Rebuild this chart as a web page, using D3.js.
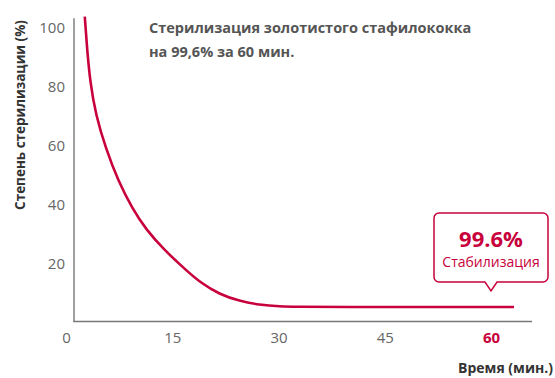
<!DOCTYPE html>
<html><head><meta charset="utf-8">
<script src="https://cdn.jsdelivr.net/npm/d3@7"></script>
<style>
html,body{margin:0;padding:0;background:#fff;}
svg{display:block;font-family:"Open Sans","Noto Sans",sans-serif;}
</style></head>
<body><svg id="c" width="555" height="378"></svg>
<script>
const xTicks = [0, 15, 30, 45, 60];
const yTicks = [20, 40, 60, 80, 100];
const minutes = [2.65, 2.97, 3.40, 4.20, 5.62, 7.40, 9.38, 11.28, 13.87, 16.94, 19.0, 21.65, 24.48, 27.31, 30.14, 33.0, 36.0, 63.25];
const sterilization = [103.5, 92.8, 81.5, 70.2, 58.8, 47.6, 38.4, 31.4, 24.4, 17.6, 13.3, 9.4, 7.1, 5.8, 5.25, 5.15, 5.1, 5.1];
const title = ["Стерилизация золотистого стафилококка", "на 99,6% за 60 мин."];
const yTitle = "Степень стерилизации (%)";
const xTitle = "Время (мин.)";
const callout = {value: "99.6%", label: "Стабилизация", at: 60};

const red = "#c8003c";
const svg = d3.select("#c");
const x = d3.scaleLinear().domain([0, 60]).range([66, 491]);
const y = d3.scaleLinear().domain([0, 100]).range([322, 27]);

// axis lines
svg.append("line").attr("x1", 74).attr("x2", 74).attr("y1", y(103)).attr("y2", 322)
  .attr("stroke", "#777").attr("stroke-width", 1.4);
svg.append("line").attr("x1", 73.3).attr("x2", 532).attr("y1", 321.5).attr("y2", 321.5)
  .attr("stroke", "#777").attr("stroke-width", 1.4);

// y tick labels
const yAxis = d3.axisLeft(y).tickValues(yTicks).tickSize(0).tickPadding(0);
const gy = svg.append("g").attr("transform", "translate(65,0)").call(yAxis);
gy.select(".domain").remove();
gy.selectAll("text").attr("font-size", 15).attr("fill", "#666").attr("font-family", "Open Sans")
  .attr("dy", "0.36em");

// x tick labels
const xAxis = d3.axisBottom(x).tickValues(xTicks).tickSize(0).tickPadding(0);
const gx = svg.append("g").attr("transform", "translate(0,329)").call(xAxis);
gx.select(".domain").remove();
gx.selectAll("text").attr("font-size", 15).attr("fill", "#666").attr("font-family", "Open Sans")
  .attr("dy", "0.9em");
gx.selectAll("text").filter(d => d === 60).attr("fill", red).attr("font-weight", "bold");

// curve
const pts = minutes.map((m, i) => [m, sterilization[i]]);
svg.append("path").datum(pts)
  .attr("d", d3.line().x(d => x(d[0])).y(d => y(d[1])).curve(d3.curveBasis))
  .attr("fill", "none").attr("stroke", red).attr("stroke-width", 2.6);

// title
svg.append("text").attr("x", 149).attr("y", 33).attr("font-size", 14.5).attr("font-weight", "bold")
  .attr("fill", "#555").text(title[0]);
svg.append("text").attr("x", 149).attr("y", 57).attr("font-size", 14.5).attr("font-weight", "bold")
  .attr("fill", "#555").text(title[1]);

// y title
svg.append("text").attr("transform", "translate(25,115) rotate(-90)").attr("text-anchor", "middle")
  .attr("font-size", 13.5).attr("font-weight", "bold").attr("fill", "#333").text(yTitle);

// x title
svg.append("text").attr("x", 553).attr("y", 373).attr("text-anchor", "end")
  .attr("font-size", 14).attr("font-weight", "bold").attr("fill", "#333").text(xTitle);

// callout
const cx = x(callout.at);
const bx0 = 434, bx1 = 548, by0 = 213, by1 = 282, r = 5, tw = 6, tipY = 291;
const p = d3.path();
p.moveTo(bx0 + r, by0);
p.lineTo(bx1 - r, by0);
p.arcTo(bx1, by0, bx1, by0 + r, r);
p.lineTo(bx1, by1 - r);
p.arcTo(bx1, by1, bx1 - r, by1, r);
p.lineTo(cx + tw, by1);
p.lineTo(cx, tipY);
p.lineTo(cx - tw, by1);
p.lineTo(bx0 + r, by1);
p.arcTo(bx0, by1, bx0, by1 - r, r);
p.lineTo(bx0, by0 + r);
p.arcTo(bx0, by0, bx0 + r, by0, r);
p.closePath();
svg.append("path").attr("d", p.toString()).attr("fill", "#fff").attr("stroke", red).attr("stroke-width", 1.5);
svg.append("text").attr("x", cx).attr("y", 247).attr("text-anchor", "middle")
  .attr("font-size", 22).attr("font-weight", "bold").attr("fill", red).text(callout.value);
svg.append("text").attr("x", cx).attr("y", 267).attr("text-anchor", "middle")
  .attr("font-size", 14).attr("fill", red).text(callout.label);
</script></body></html>
